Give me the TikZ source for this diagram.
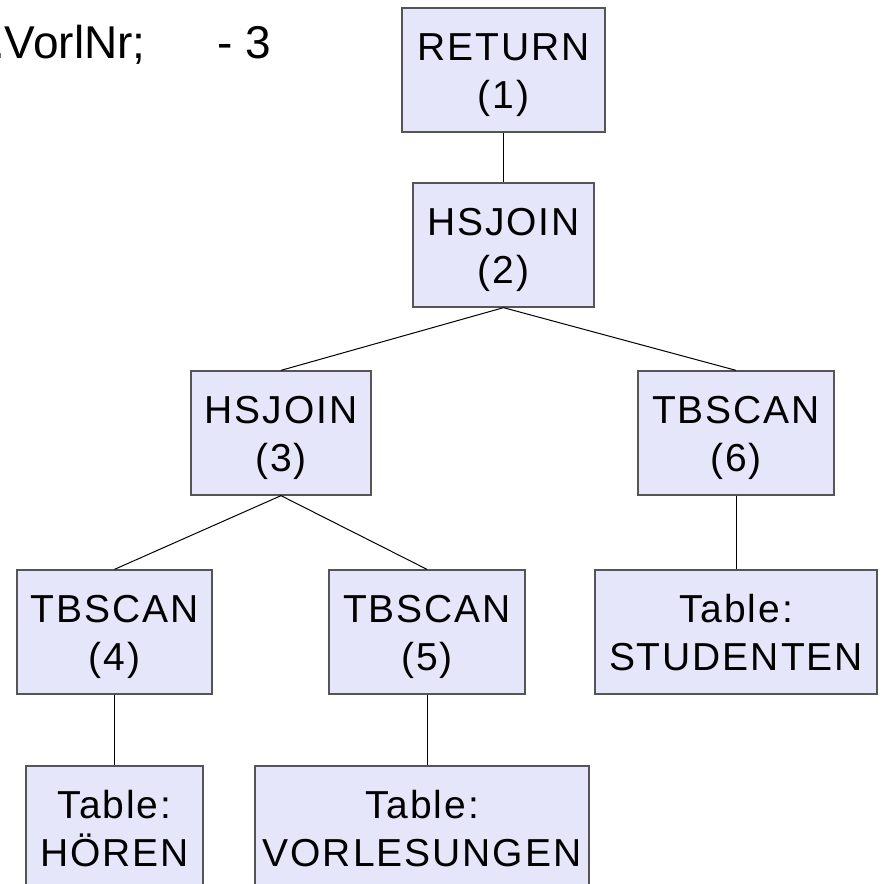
\documentclass[tikz,border=0pt]{standalone}
\usepackage{fontspec}
\setmainfont{Liberation Sans}
\newfontfamily\boxfont[LetterSpace=5]{Liberation Sans}
\definecolor{boxfill}{RGB}{230,230,250}
\definecolor{boxline}{RGB}{85,85,85}
\begin{document}
\begin{tikzpicture}[x=1pt,y=-1pt,
  opbox/.style={draw=boxline, line width=1.3pt, fill=boxfill, inner sep=0pt,
    minimum height=124pt, align=center, text height=86pt, text depth=10pt,
    font=\boxfont\fontsize{39pt}{48pt}\selectfont},
  link/.style={draw=black, line width=1pt}]
\useasboundingbox (0,0) rectangle (882,884);
\node[anchor=base west, inner sep=0pt, font=\fontsize{46pt}{55pt}\selectfont] (hdr) at (-8,58) {.VorlNr;\hspace{72pt}- 3};
\node[opbox, minimum width=203pt] (n1) at (503.5,70) {RETURN\\(1)};
\node[opbox, minimum width=181pt] (n2) at (503.5,245) {HSJOIN\\(2)};
\node[opbox, minimum width=180pt] (n3) at (281,433) {HSJOIN\\(3)};
\node[opbox, minimum width=196pt] (n6) at (736,433) {TBSCAN\\(6)};
\node[opbox, minimum width=195pt] (n4) at (114.5,632) {TBSCAN\\(4)};
\node[opbox, minimum width=196pt] (n5) at (427,632) {TBSCAN\\(5)};
\node[opbox, minimum width=282pt] (ts) at (736,632) {Table:\\STUDENTEN};
\node[opbox, minimum width=177pt] (th) at (114.5,828) {Table:\\HÖREN};
\node[opbox, minimum width=334pt] (tv) at (422,828) {Table:\\VORLESUNGEN};
\coordinate (vtop) at (n5.south |- tv.north);
\draw[link] (n1.south) -- (n2.north);
\draw[link] (n2.south) -- (n3.north);
\draw[link] (n2.south) -- (n6.north);
\draw[link] (n3.south) -- (n4.north);
\draw[link] (n3.south) -- (n5.north);
\draw[link] (n6.south) -- (ts.north);
\draw[link] (n4.south) -- (th.north);
\draw[link] (n5.south) -- (vtop);
\end{tikzpicture}
\end{document}
